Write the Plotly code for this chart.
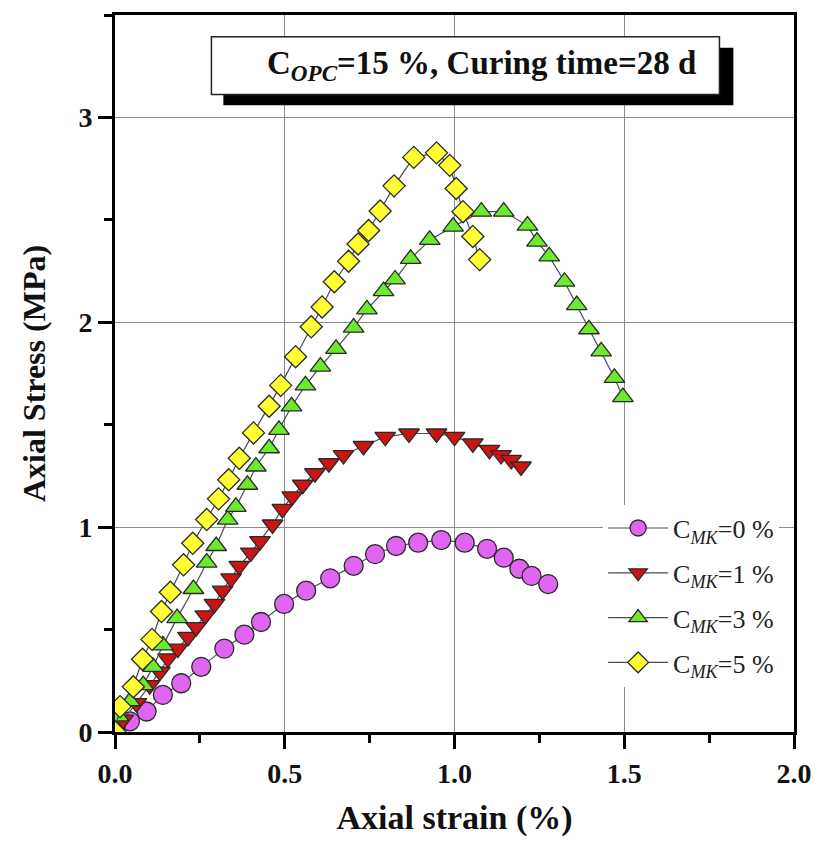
import plotly.graph_objects as go

# ---------------- data ----------------
x_mk0 = [0.044, 0.093, 0.141, 0.195, 0.254, 0.322, 0.381, 0.430, 0.498, 0.563, 0.634, 0.703,
         0.766, 0.828, 0.893, 0.961, 1.030, 1.096, 1.145, 1.191, 1.227, 1.276]
y_mk0 = [0.052, 0.100, 0.181, 0.238, 0.318, 0.407, 0.475, 0.537, 0.625, 0.690, 0.750, 0.811,
         0.868, 0.908, 0.924, 0.937, 0.924, 0.894, 0.851, 0.797, 0.762, 0.722]

x_mk1 = [0.0, 0.024, 0.063, 0.102, 0.132, 0.156, 0.185, 0.215, 0.239, 0.266, 0.293, 0.317, 0.342,
         0.366, 0.400, 0.427, 0.464, 0.493, 0.522, 0.553, 0.589, 0.630, 0.673, 0.732, 0.796,
         0.866, 0.947, 1.000, 1.054, 1.103, 1.137, 1.167, 1.196]
y_mk1 = [0.0, 0.060, 0.141, 0.229, 0.294, 0.359, 0.407, 0.464, 0.512, 0.569, 0.625, 0.690, 0.750,
         0.811, 0.876, 0.932, 1.013, 1.089, 1.150, 1.207, 1.263, 1.312, 1.352, 1.396, 1.441,
         1.457, 1.457, 1.441, 1.409, 1.377, 1.352, 1.328, 1.296]

x_mk3 = [0.0, 0.010, 0.044, 0.083, 0.112, 0.141, 0.183, 0.231, 0.270, 0.298, 0.332, 0.356, 0.390,
         0.415, 0.454, 0.483, 0.520, 0.561, 0.605, 0.651, 0.703, 0.742, 0.791, 0.825, 0.871,
         0.927, 0.996, 1.079, 1.145, 1.215, 1.243, 1.279, 1.324, 1.360, 1.396, 1.432, 1.471, 1.496]
y_mk3 = [0.0, 0.076, 0.150, 0.229, 0.318, 0.423, 0.556, 0.698, 0.827, 0.908, 1.037, 1.099, 1.207,
         1.296, 1.385, 1.475, 1.590, 1.692, 1.784, 1.870, 1.974, 2.063, 2.152, 2.209, 2.310,
         2.402, 2.467, 2.540, 2.540, 2.472, 2.394, 2.322, 2.198, 2.084, 1.966, 1.858, 1.729, 1.635]

x_mk5 = [0.0, 0.015, 0.054, 0.081, 0.109, 0.137, 0.163, 0.202, 0.229, 0.270, 0.305, 0.335, 0.366,
         0.408, 0.454, 0.488, 0.532, 0.578, 0.610, 0.646, 0.688, 0.716, 0.747, 0.781, 0.822,
         0.880, 0.947, 0.986, 1.005, 1.025, 1.054, 1.074]
y_mk5 = [0.0, 0.124, 0.221, 0.355, 0.452, 0.588, 0.682, 0.816, 0.921, 1.037, 1.138, 1.231, 1.336,
         1.460, 1.590, 1.692, 1.832, 1.978, 2.075, 2.198, 2.298, 2.382, 2.448, 2.543, 2.666,
         2.805, 2.827, 2.766, 2.653, 2.540, 2.419, 2.306]

series_names = ["C<sub><i>MK</i></sub>=0 %", "C<sub><i>MK</i></sub>=1 %",
                "C<sub><i>MK</i></sub>=3 %", "C<sub><i>MK</i></sub>=5 %"]
x_ticks = [0.0, 0.5, 1.0, 1.5, 2.0]
x_tick_labels = ["0.0", "0.5", "1.0", "1.5", "2.0"]
y_ticks = [0, 1, 2, 3]
y_tick_labels = ["0", "1", "2", "3"]

title_text = "<b>C<sub><i>OPC</i></sub>=15 %, Curing time=28 d</b>"

# ---------------- figure ----------------
W, H = 824, 842
ML, MR, MT, MB = 115, 26, 12, 108
PW, PH = W - ML - MR, H - MT - MB

def px_x(p):
    return (p - ML) / PW

def px_y(p):
    return (H - MB - p) / PH

FONT = "Liberation Serif"

styles = [
    dict(symbol="circle", color="#E066F2", size=19),
    dict(symbol="triangle-down", color="#CC1414", size=18),
    dict(symbol="triangle-up", color="#6CEB2E", size=18),
    dict(symbol="diamond", color="#FFFF33", size=17),
]
xs = [x_mk0, x_mk1, x_mk3, x_mk5]
ys = [y_mk0, y_mk1, y_mk3, y_mk5]

fig = go.Figure()
for i in range(4):
    st = styles[i]
    fig.add_trace(go.Scatter(
        x=xs[i], y=ys[i], mode="lines+markers", name=series_names[i],
        legendgroup=str(i),
        line=dict(color="#4a4a5a", width=1.2),
        marker=dict(symbol=st["symbol"], size=st["size"], color=st["color"],
                    line=dict(color="#2a2a2a", width=1.3)),
    ))

axis_common = dict(
    showline=True, linecolor="black", linewidth=3, mirror=True,
    ticks="outside", ticklen=14, tickwidth=3, tickcolor="black",
    showgrid=True, gridcolor="#8c8c8c", gridwidth=1.3, zeroline=False,
    tickfont=dict(family=FONT, size=28, color="#111", weight="bold"),
)

fig.update_xaxes(
    range=[0, 2.0], tickvals=x_ticks, ticktext=x_tick_labels,
    minor=dict(ticks="outside", ticklen=8, tickwidth=3, tickcolor="black",
               dtick=0.25, tick0=0, showgrid=False),
    title=dict(text="Axial strain (%)", standoff=18,
               font=dict(family=FONT, size=34, color="#111", weight="bold")),
    **axis_common,
)
fig.update_yaxes(
    range=[0, 3.5], tickvals=y_ticks, ticktext=y_tick_labels,
    minor=dict(ticks="outside", ticklen=8, tickwidth=3, tickcolor="black",
               dtick=0.5, tick0=0, showgrid=False),
    title=dict(text="Axial Stress (MPa)", standoff=24,
               font=dict(family=FONT, size=32, color="#111", weight="bold")),
    **axis_common,
)

# title box with drop shadow
fig.add_shape(type="rect", xref="paper", yref="paper",
              x0=px_x(224), x1=px_x(737), y0=px_y(103), y1=px_y(45),
              fillcolor="black", line=dict(color="black", width=0), layer="above")
fig.add_shape(type="rect", xref="paper", yref="paper",
              x0=px_x(212), x1=px_x(723), y0=px_y(92), y1=px_y(34),
              fillcolor="white", line=dict(color="#222", width=1.5), layer="above")
fig.add_annotation(xref="paper", yref="paper", x=px_x(484), y=px_y(63),
                   text=title_text, showarrow=False, xanchor="center", yanchor="middle",
                   font=dict(family=FONT, size=33, color="#111"))

fig.update_layout(
    width=W, height=H,
    margin=dict(l=ML, r=MR, t=MT, b=MB),
    paper_bgcolor="white", plot_bgcolor="white",
    legend=dict(x=px_x(606), y=px_y(505), xanchor="left", yanchor="top",
                bgcolor="white", borderwidth=0, tracegroupgap=8, itemwidth=60,
                font=dict(family=FONT, size=26, color="#222")),
)

fig.write_html("out.html")
